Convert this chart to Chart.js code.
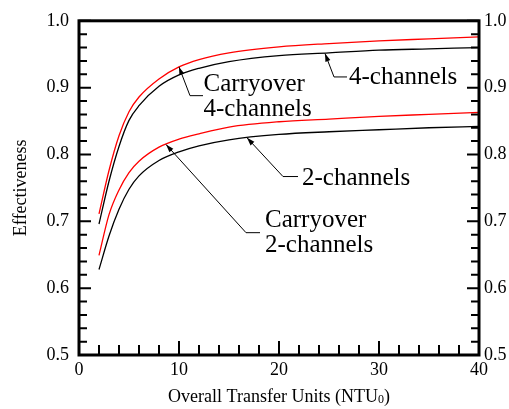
<!DOCTYPE html>
<html>
<head>
<meta charset="utf-8">
<style>
  html, body { margin: 0; padding: 0; background: #fff; }
  #wrap { width: 509px; height: 409px; }
</style>
</head>
<body>
<div id="wrap"><canvas id="effChart" width="509" height="409"></canvas></div>

<script src="https://cdn.jsdelivr.net/npm/chart.js"></script>
<script>
// values
const ntu = [2, 3, 4, 5, 6, 8, 10, 12, 15, 20, 25, 30, 35, 40];
const carryover4ch = [0.711, 0.776, 0.828, 0.864, 0.886, 0.913, 0.931, 0.942, 0.952, 0.961, 0.966, 0.970, 0.973, 0.976];
const channels4 = [0.696, 0.760, 0.812, 0.851, 0.873, 0.902, 0.919, 0.929, 0.939, 0.948, 0.952, 0.956, 0.958, 0.960];
const carryover2ch = [0.649, 0.710, 0.747, 0.773, 0.790, 0.811, 0.823, 0.831, 0.841, 0.849, 0.853, 0.857, 0.860, 0.863];
const channels2 = [0.628, 0.678, 0.718, 0.748, 0.768, 0.791, 0.804, 0.813, 0.822, 0.830, 0.834, 0.837, 0.840, 0.842];

const xTicks = [0, 10, 20, 30, 40];
const yTicks = [0.5, 0.6, 0.7, 0.8, 0.9, 1.0];

// callouts, in data units: arrow tip, elbow, end of leader, text anchor
const callouts = [
  { lines: ['Carryover', '4-channels'], tip: [10.0, 0.931], elbow: [11.1, 0.888], end: [12.4, 0.888], text: [12.45, 0.895] },
  { lines: ['4-channels'], tip: [24.6, 0.951], elbow: [25.5, 0.916], end: [26.8, 0.916], text: [27.0, 0.906] },
  { lines: ['2-channels'], tip: [16.8, 0.825], elbow: [20.4, 0.767], end: [21.9, 0.767], text: [22.3, 0.755] },
  { lines: ['Carryover', '2-channels'], tip: [8.7, 0.815], elbow: [16.7, 0.683], end: [18.1, 0.683], text: [18.6, 0.692] }
];

const serif = "'Liberation Serif', 'Times New Roman', serif";

function pts(ys) {
  return ntu.map((x, i) => ({ x: x, y: ys[i] }));
}

function series(label, ys, color) {
  return {
    label: label,
    data: pts(ys),
    borderColor: color,
    borderWidth: 1.3,
    pointRadius: 0,
    fill: false,
    cubicInterpolationMode: 'monotone'
  };
}

// tick marks drawn before the datasets, pointing into the plot
const tickPlugin = {
  id: 'innerTicks',
  beforeDatasetsDraw(chart) {
    const ctx = chart.ctx;
    const a = chart.chartArea;
    const xs = chart.scales.x, ys = chart.scales.y;
    ctx.save();
    ctx.strokeStyle = '#000';
    ctx.lineWidth = 2;
    ctx.beginPath();
    for (let v = 0; v <= 40; v += 2) {
      const px = xs.getPixelForValue(v);
      const len = (v % 10 === 0) ? 14 : 10;
      ctx.moveTo(px, a.bottom);
      ctx.lineTo(px, a.bottom - len);
    }
    for (let k = 0; k <= 25; k++) {
      const py = ys.getPixelForValue(0.5 + k * 0.02);
      const len = (k % 5 === 0) ? 12 : 8;
      ctx.moveTo(a.left, py);
      ctx.lineTo(a.left + len, py);
      ctx.moveTo(a.right, py);
      ctx.lineTo(a.right - len, py);
    }
    ctx.stroke();
    ctx.restore();
  }
};

const framePlugin = {
  id: 'frame',
  afterDraw(chart) {
    const ctx = chart.ctx;
    const a = chart.chartArea;
    const xs = chart.scales.x, ys = chart.scales.y;
    ctx.save();
    ctx.strokeStyle = '#000';
    ctx.fillStyle = '#000';

    // heavy frame
    ctx.lineWidth = 3;
    ctx.strokeRect(a.left, a.top, a.right - a.left, a.bottom - a.top);

    // callouts
    ctx.lineWidth = 1;
    callouts.forEach(c => {
      const tx = xs.getPixelForValue(c.tip[0]), ty = ys.getPixelForValue(c.tip[1]);
      const ex = xs.getPixelForValue(c.elbow[0]), ey = ys.getPixelForValue(c.elbow[1]);
      const nx = xs.getPixelForValue(c.end[0]), ny = ys.getPixelForValue(c.end[1]);
      ctx.beginPath();
      ctx.moveTo(tx, ty);
      ctx.lineTo(ex, ey);
      ctx.lineTo(nx, ny);
      ctx.stroke();
      const ang = Math.atan2(ty - ey, tx - ex);
      const L = 8, W = 2.6;
      ctx.beginPath();
      ctx.moveTo(tx, ty);
      ctx.lineTo(tx - L * Math.cos(ang) + W * Math.sin(ang), ty - L * Math.sin(ang) - W * Math.cos(ang));
      ctx.lineTo(tx - L * Math.cos(ang) - W * Math.sin(ang), ty - L * Math.sin(ang) + W * Math.cos(ang));
      ctx.closePath();
      ctx.fill();
      ctx.font = '25px ' + serif;
      ctx.textAlign = 'left';
      ctx.textBaseline = 'alphabetic';
      const lx = xs.getPixelForValue(c.text[0]), ly = ys.getPixelForValue(c.text[1]);
      c.lines.forEach((s, i) => ctx.fillText(s, lx, ly + i * 25));
    });

    // x axis title with subscript
    ctx.font = '18px ' + serif;
    const t1 = 'Overall Transfer Units (NTU';
    const w1 = ctx.measureText(t1).width;
    ctx.font = '12px ' + serif;
    const w2 = ctx.measureText('0').width;
    ctx.font = '18px ' + serif;
    const w3 = ctx.measureText(')').width;
    const x0 = (a.left + a.right) / 2 - (w1 + w2 + w3) / 2;
    const base = 402;
    ctx.fillText(t1, x0, base);
    ctx.font = '12px ' + serif;
    ctx.fillText('0', x0 + w1, base + 1);
    ctx.font = '18px ' + serif;
    ctx.fillText(')', x0 + w1 + w2, base);

    ctx.restore();
  }
};

const ctx = document.getElementById('effChart').getContext('2d');
const effChart = new Chart(ctx, {
  type: 'line',
  data: {
    datasets: [
      series('Carryover 4-channels', carryover4ch, 'rgb(255,0,0)'),
      series('4-channels', channels4, '#000'),
      series('Carryover 2-channels', carryover2ch, 'rgb(255,0,0)'),
      series('2-channels', channels2, '#000')
    ]
  },
  options: {
    responsive: false,
    animation: false,
    layout: { padding: { top: 16, left: 0, right: 0, bottom: 0 } },
    plugins: { legend: { display: false }, tooltip: { enabled: false } },
    scales: {
      x: {
        type: 'linear',
        min: 0, max: 40,
        afterBuildTicks: s => { s.ticks = xTicks.map(v => ({ value: v })); },
        afterFit: s => { s.height = 54; },
        grid: { display: false, drawTicks: false },
        border: { display: false },
        ticks: { color: '#000', font: { family: serif, size: 18 }, padding: 4, maxRotation: 0 }
      },
      y: {
        position: 'left',
        min: 0.5, max: 1.0,
        afterBuildTicks: s => { s.ticks = yTicks.map(v => ({ value: v })); },
        afterFit: s => { s.width = 79; },
        grid: { display: false, drawTicks: false },
        border: { display: false },
        title: { display: true, text: 'Effectiveness', color: '#000', font: { family: serif, size: 18 }, padding: { top: 10, bottom: 0 } },
        ticks: { color: '#000', font: { family: serif, size: 18 }, padding: 10, callback: v => v.toFixed(1) }
      },
      y2: {
        position: 'right',
        display: true,
        min: 0.5, max: 1.0,
        afterBuildTicks: s => { s.ticks = yTicks.map(v => ({ value: v })); },
        afterFit: s => { s.width = 30; },
        grid: { display: false, drawTicks: false },
        border: { display: false },
        ticks: { color: '#000', font: { family: serif, size: 18 }, padding: 5, callback: v => v.toFixed(1) }
      }
    }
  },
  plugins: [tickPlugin, framePlugin]
});
</script>
</body>
</html>
